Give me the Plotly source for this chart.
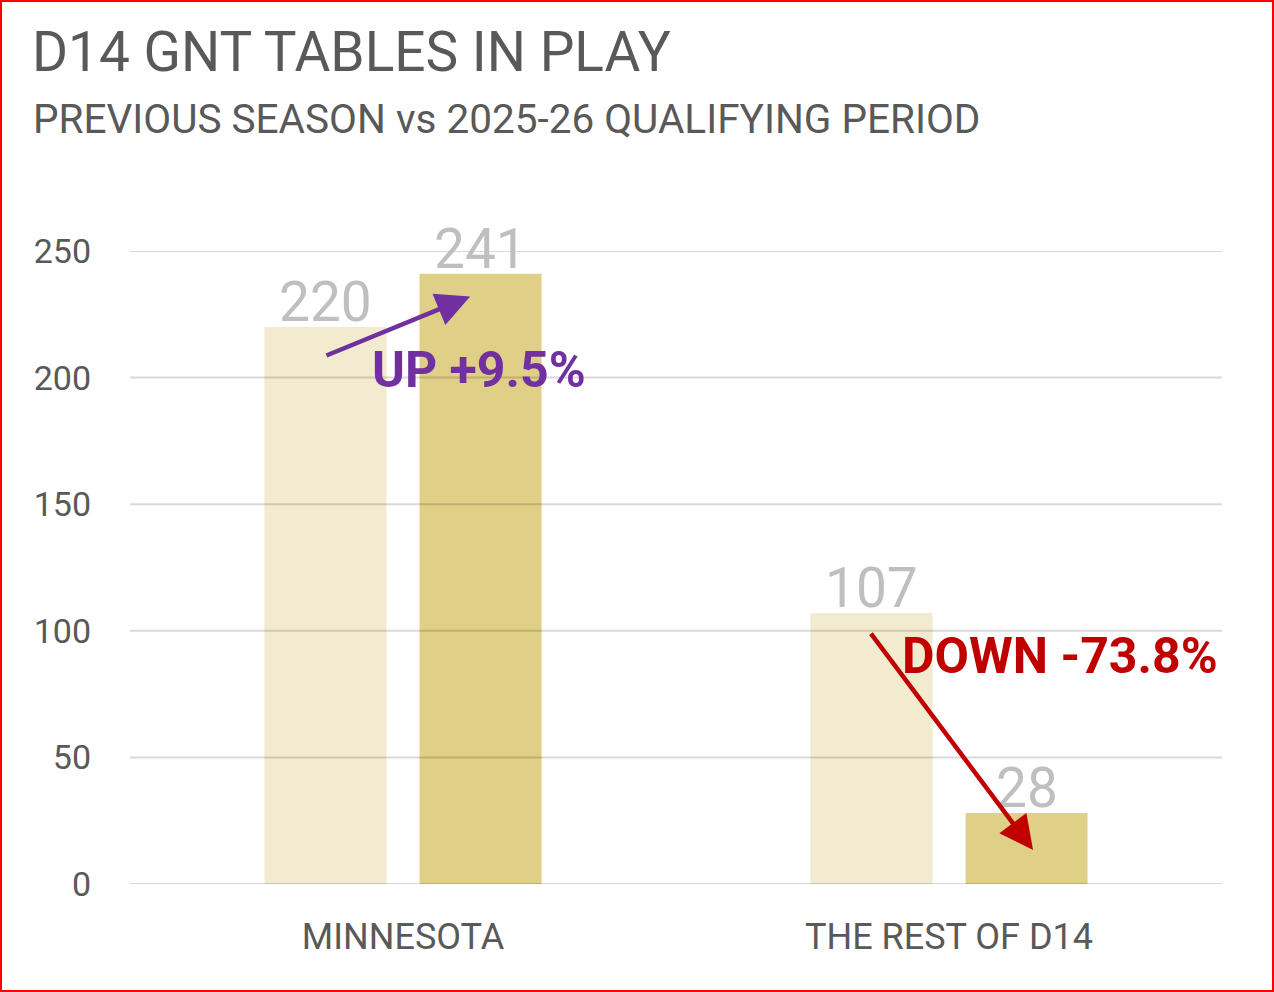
import plotly.graph_objects as go

# chart data
categories = ["MINNESOTA", "THE REST OF D14"]
prev_season = [220, 107]
qualifying_2526 = [241, 28]
y_ticks = [0, 50, 100, 150, 200, 250]

title_text = "D14 GNT TABLES IN PLAY"
subtitle_text = "PREVIOUS SEASON vs 2025-26 QUALIFYING PERIOD"
up_label = "UP +9.5%"
down_label = "DOWN -73.8%"

FONT = "Roboto, Arial"
GREY_TXT = "#595959"

W, H = 1274, 992
M = dict(l=130, r=52, t=251, b=108)
pw = W - M["l"] - M["r"]
ph = H - M["t"] - M["b"]

BARGAP, GROUPGAP = 0.432, 0.213
# centre of each of the two bars, in category units
slot = (1 - BARGAP) / 2
offsets = [-slot / 2, slot / 2]

fig = go.Figure()
fig.add_trace(go.Bar(
    x=categories, y=prev_season, name="Previous season",
    marker=dict(color="#F2EBCF", line=dict(width=0)),
))
fig.add_trace(go.Bar(
    x=categories, y=qualifying_2526, name="2025-26",
    marker=dict(color="#E0CF87", line=dict(width=0)),
))

# value labels sitting just on top of each bar
for series, off in zip([prev_season, qualifying_2526], offsets):
    for i, v in enumerate(series):
        fig.add_annotation(x=i + off, y=v, xref="x", yref="y", text=str(v),
                           showarrow=False, yanchor="bottom", yshift=-9,
                           font=dict(size=55, color="#BFBFBF", family=FONT))

# gridlines drawn over the bars, like the original
for t in y_ticks:
    fig.add_shape(type="line", xref="paper", yref="y", x0=0, x1=1, y0=t, y1=t,
                  line=dict(color="rgba(0,0,0,0.15)", width=2), layer="above")

# arrows
fig.add_annotation(x=0.123, y=232, ax=-0.143, ay=208.5, xref="x", yref="y",
                   axref="x", ayref="y", text="", showarrow=True,
                   arrowhead=2, arrowsize=1.5, arrowwidth=4.5, arrowcolor="#7030A0")
fig.add_annotation(x=1.154, y=13.4, ax=0.855, ay=99.5, xref="x", yref="y",
                   axref="x", ayref="y", text="", showarrow=True,
                   arrowhead=2, arrowsize=1.5, arrowwidth=4.5, arrowcolor="#C00000")
fig.add_annotation(x=0.14, y=203, xref="x", yref="y", text="<b>%s</b>" % up_label,
                   showarrow=False, font=dict(size=50, color="#7030A0", family=FONT))
fig.add_annotation(x=1.203, y=90, xref="x", yref="y", text="<b>%s</b>" % down_label,
                   showarrow=False, font=dict(size=50, color="#C00000", family=FONT))

# titles
fig.add_annotation(x=(30 - M["l"]) / pw, y=(M["t"] + ph - 52) / ph, xref="paper", yref="paper",
                   xanchor="left", yanchor="middle", text=title_text, showarrow=False,
                   font=dict(size=55, color=GREY_TXT, family=FONT))
fig.add_annotation(x=(31 - M["l"]) / pw, y=(M["t"] + ph - 119) / ph, xref="paper", yref="paper",
                   xanchor="left", yanchor="middle", text=subtitle_text, showarrow=False,
                   font=dict(size=40.5, color=GREY_TXT, family=FONT))

# red frame round the whole picture
fig.add_shape(type="rect", xref="paper", yref="paper",
              x0=-(M["l"] - 1) / pw, x1=1 + (M["r"] - 1) / pw,
              y0=-(M["b"] - 1) / ph, y1=1 + (M["t"] - 1) / ph,
              line=dict(color="#FF0000", width=2), layer="above")

fig.update_layout(
    width=W, height=H, margin=M,
    paper_bgcolor="white", plot_bgcolor="white",
    barmode="group", bargap=BARGAP, bargroupgap=GROUPGAP,
    showlegend=False,
    font=dict(family=FONT, color=GREY_TXT),
)
fig.update_xaxes(showgrid=False, showline=False, ticks="",
                 tickfont=dict(size=36, color=GREY_TXT, family=FONT), ticklabelstandoff=28)
fig.update_yaxes(range=[0, 250], tickvals=y_ticks, showgrid=False, zeroline=False,
                 showline=False, ticks="", ticklabelstandoff=38,
                 tickfont=dict(size=34, color=GREY_TXT, family=FONT))

fig.write_html("out.html", config={"displayModeBar": False},
               post_script="document.body.style.margin='0';")
